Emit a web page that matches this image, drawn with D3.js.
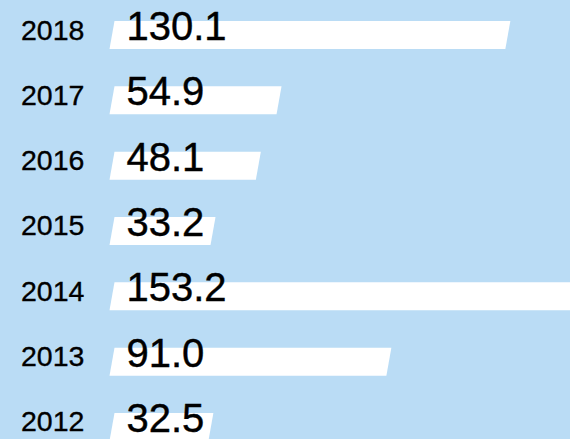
<!DOCTYPE html>
<html>
<head>
<meta charset="utf-8">
<script src="https://cdn.jsdelivr.net/npm/d3@7"></script>
<style>
  html, body { margin: 0; padding: 0; background: #badcf5; }
  svg { display: block; }
</style>
</head>
<body>
<svg id="chart" width="570" height="439"></svg>
<script>
const years = ["2018", "2017", "2016", "2015", "2014", "2013", "2012"];
const values = [130.1, 54.9, 48.1, 33.2, 153.2, 91.0, 32.5];
const valueLabels = ["130.1", "54.9", "48.1", "33.2", "153.2", "91.0", "32.5"];

const W = 570, H = 439;
const svg = d3.select("#chart");
svg.append("rect").attr("width", W).attr("height", H).attr("fill", "#badcf5");

const x = d3.scaleLinear().domain([0, 150]).range([112, 568.4]);
const y = d3.scaleBand().domain(years).range([21, 441]).paddingInner(0.5714).paddingOuter(0);
const skew = 5;

const data = years.map((yr, i) => ({ year: yr, value: values[i], label: valueLabels[i] }));

const g = svg.append("g");
g.selectAll("path.bar").data(data).join("path")
  .attr("class", "bar")
  .attr("fill", "#ffffff")
  .attr("d", d => {
    const top = y(d.year), bot = top + y.bandwidth();
    const x0 = x(0), x1 = x(d.value);
    const half = skew / 2;
    return `M${x0 - half},${bot} L${x0 + half},${top} L${x1 + half},${top} L${x1 - half},${bot} Z`;
  });

g.selectAll("text.year").data(data).join("text")
  .attr("class", "year")
  .attr("x", 21)
  .attr("y", d => y(d.year) + 18.5)
  .attr("font-family", "'Liberation Sans', Arial, Helvetica, sans-serif")
  .attr("font-size", 28.5)
  .attr("fill", "#000")
  .attr("stroke", "#000")
  .attr("stroke-width", 0.35)
  .text(d => d.year);

g.selectAll("text.val").data(data).join("text")
  .attr("class", "val")
  .attr("x", 126.5)
  .attr("y", d => y(d.year) + 19)
  .attr("font-family", "'Liberation Sans', Arial, Helvetica, sans-serif")
  .attr("font-size", 40)
  .attr("fill", "#000")
  .attr("stroke", "#000")
  .attr("stroke-width", 0.4)
  .text(d => d.label);
</script>
</body>
</html>
